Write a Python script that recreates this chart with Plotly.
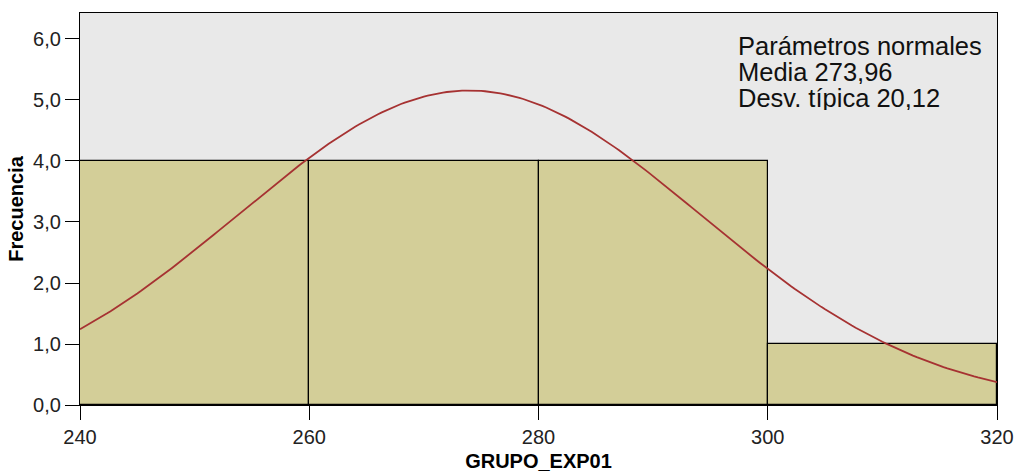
import numpy as np
import plotly.graph_objects as go

# Data
bin_starts = [240, 260, 280, 300]
bin_width = 20
counts = [4, 4, 4, 1]
mean_val = 273.96
sd_val = 20.12
x_ticks = [240, 260, 280, 300, 320]
y_ticks = [0, 1, 2, 3, 4, 5, 6]
ann_lines = ["Parámetros normales", "Media 273,96", "Desv. típica 20,12"]

n_total = sum(counts)
centers = [s + bin_width / 2 for s in bin_starts]
xs = np.linspace(240, 320, 241)
ys = n_total * bin_width * np.exp(-0.5 * ((xs - mean_val) / sd_val) ** 2) / (sd_val * np.sqrt(2 * np.pi))

FONT = "Liberation Sans, Arial, sans-serif"

fig = go.Figure()
fig.add_trace(go.Bar(
    x=centers, y=counts, width=[bin_width] * len(centers),
    marker=dict(color="#D3CE98", line=dict(color="black", width=1.2)),
    hoverinfo="skip", showlegend=False,
))
fig.add_trace(go.Scatter(
    x=xs, y=ys, mode="lines",
    line=dict(color="#A63232", width=1.8),
    showlegend=False, hoverinfo="skip",
))

for i, t in enumerate(ann_lines):
    fig.add_annotation(
        x=0.716, y=0.918 - i * 0.0663, xref="paper", yref="paper",
        xanchor="left", yanchor="middle", text=t, showarrow=False,
        height=25, borderpad=0,
        font=dict(family=FONT, size=25.5, color="#111111"),
    )

fig.update_layout(
    width=1017, height=472,
    margin=dict(l=80, r=20, t=13, b=67),
    paper_bgcolor="white", plot_bgcolor="#E9E9E9",
    bargap=0,
    separators=",.",
    font=dict(family=FONT, color="#222222"),
)
fig.update_xaxes(
    range=[240, 320], tickvals=x_ticks, ticks="outside", ticklen=14,
    tickwidth=1.3, tickcolor="black", automargin=False,
    showline=True, linecolor="black", linewidth=1.3, mirror=True,
    showgrid=False, zeroline=False,
    tickfont=dict(family=FONT, size=20, color="#222222"),
    title=dict(text="<b>GRUPO_EXP01</b>", font=dict(family=FONT, size=20, color="black"), standoff=12),
)
fig.update_yaxes(
    range=[0, 6.426], tickvals=y_ticks, tickformat=".1f", ticks="outside", ticklen=14,
    tickwidth=1.3, tickcolor="black", ticklabelstandoff=0, automargin=False,
    showline=True, linecolor="black", linewidth=1.3, mirror=True,
    showgrid=False, zeroline=False,
    tickfont=dict(family=FONT, size=20, color="#222222"),
    title=dict(text="<b>Frecuencia</b>", font=dict(family=FONT, size=20, color="black"), standoff=4),
)

fig.write_html("out.html")
